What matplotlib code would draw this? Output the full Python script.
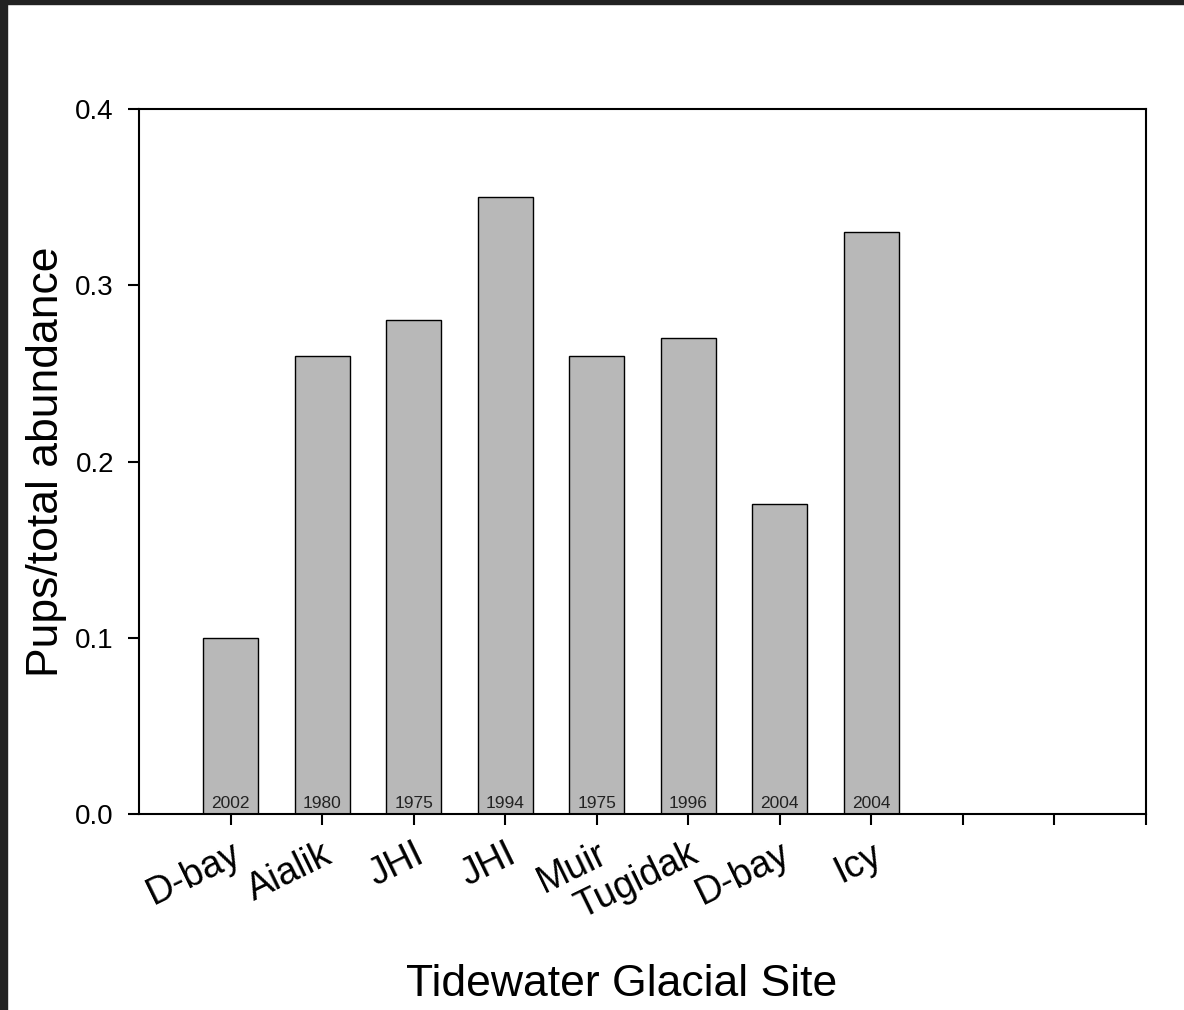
import numpy as np
import matplotlib.pyplot as plt
from matplotlib.patches import Rectangle

plt.rcParams['font.family'] = ['Liberation Sans', 'DejaVu Sans']

# data
sites = ['D-bay', 'Aialik', 'JHI', 'JHI', 'Muir', 'Tugidak', 'D-bay', 'Icy']
years = ['2002', '1980', '1975', '1994', '1975', '1996', '2004', '2004']
ratio = [0.10, 0.26, 0.28, 0.35, 0.26, 0.27, 0.176, 0.33]
n_slots = 11

fig = plt.figure(figsize=(11.84, 10.10), dpi=100)
ax = fig.add_axes([139/1184, 1 - 814/1010, (1146 - 139)/1184, (814 - 109)/1010])

x = np.arange(len(sites))
bars = ax.bar(x, ratio, width=0.6, color='#b8b8b8', edgecolor='black', linewidth=1.0)

for b, yr in zip(bars, years):
    ax.annotate(yr, (b.get_x() + b.get_width() / 2, 0), xytext=(0, 2.5),
                textcoords='offset points', ha='center', va='bottom',
                fontsize=12.5, color='#222222')

ax.set_xlim(-1, n_slots - 1)
ax.set_ylim(0, 0.4)
ax.set_yticks([0.0, 0.1, 0.2, 0.3, 0.4])
ax.set_yticklabels(['0.0', '0.1', '0.2', '0.3', '0.4'], fontsize=20)
ax.set_xticks(np.arange(n_slots))
ax.set_xticklabels(sites + [''] * (n_slots - len(sites)), fontsize=27,
                   rotation=26, ha='right', va='top', rotation_mode='anchor')
ax.tick_params(direction='out', length=8, width=1.5)
ax.tick_params(axis='y', pad=10)
ax.tick_params(axis='x', pad=8)
for s in ax.spines.values():
    s.set_linewidth(1.5)

ax.set_ylabel('Pups/total abundance', fontsize=32)
ax.set_xlabel('Tidewater Glacial Site', fontsize=32)
ax.xaxis.set_label_coords((622 - 139) / 1007, -(985 - 814) / 705)
ax.yaxis.set_label_coords(-(139 - 47) / 1007, 0.5)
ax.xaxis.label.set_va('center')
ax.yaxis.label.set_va('center')

# dark frame strips at top and left of the original image
fig.patches.append(Rectangle((0, 1 - 4/1010), 1, 4/1010, transform=fig.transFigure,
                             color='#222222', zorder=10))
fig.patches.append(Rectangle((0, 0), 7/1184, 1, transform=fig.transFigure,
                             color='#222222', zorder=10))

plt.savefig('out.png')
